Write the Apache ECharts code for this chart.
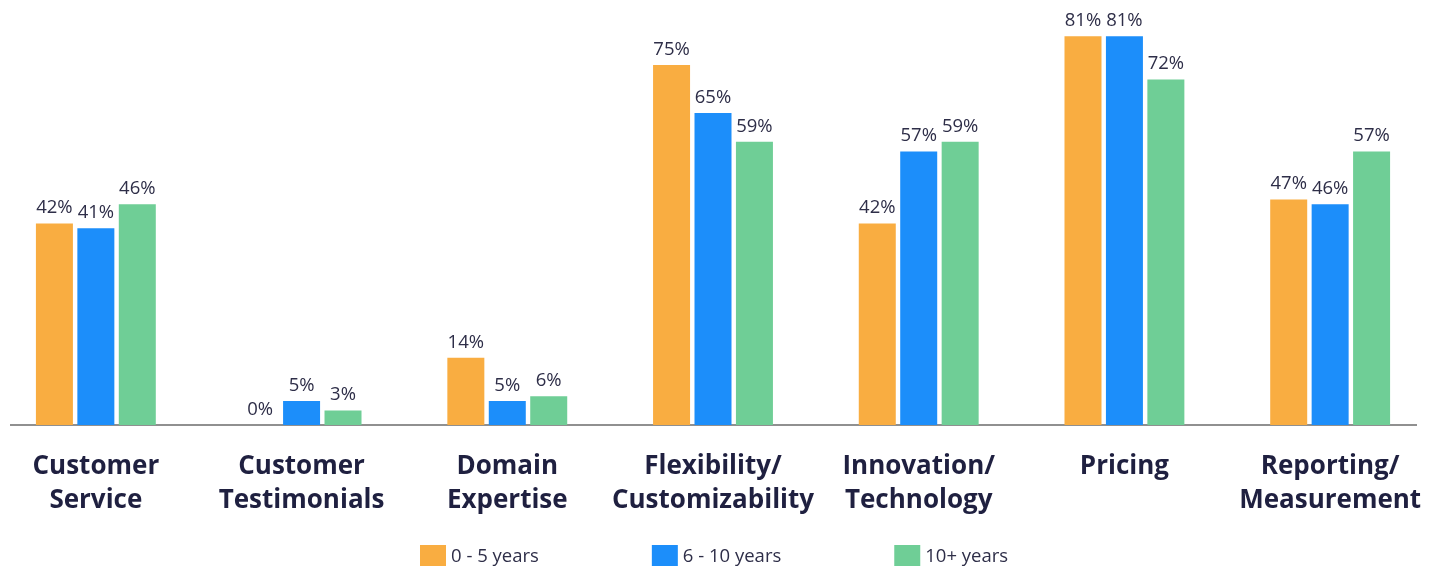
<!DOCTYPE html>
<html>
<head>
<meta charset="utf-8">
<script src="https://cdn.jsdelivr.net/npm/echarts@6/dist/echarts.min.js"></script>
<style>
  html, body { margin: 0; padding: 0; background: #fff; }
  #chart { width: 1434px; height: 566px; }
</style>
</head>
<body>
<div id="chart"></div>
<script>
var categories = ['Customer\nService', 'Customer\nTestimonials', 'Domain\nExpertise',
  'Flexibility/\nCustomizability', 'Innovation/\nTechnology', 'Pricing', 'Reporting/\nMeasurement'];
var years0to5 = [42, 0, 14, 75, 42, 81, 47];
var years6to10 = [41, 5, 5, 65, 57, 81, 46];
var years10plus = [46, 3, 6, 59, 59, 72, 57];
var seriesNames = ['0 - 5 years', '6 - 10 years', '10+ years'];
var colors = ['#F9AD41', '#1C8EFA', '#6FCE96'];

var chart = echarts.init(document.getElementById('chart'));

function barSeries(name, data, color) {
  return {
    name: name,
    type: 'bar',
    data: data,
    barWidth: 37,
    barGap: '12%',
    itemStyle: { color: color },
    label: {
      show: true,
      position: 'top',
      distance: 6,
      formatter: '{c}%',
      color: '#2e2e48',
      fontFamily: 'Open Sans',
      fontSize: 18.5
    }
  };
}

var option = {
  textStyle: { fontFamily: 'Open Sans' },
  color: colors,
  grid: { left: -7, width: 1440, top: 17, bottom: 141, outerBoundsMode: 'none' },
  legend: {
    left: 420,
    top: 545,
    padding: 0,
    itemWidth: 26,
    itemHeight: 24,
    itemGap: 113,
    icon: 'rect',
    textStyle: { color: '#2e2e48', fontSize: 18.5, fontFamily: 'Open Sans' },
    data: seriesNames
  },
  xAxis: {
    type: 'category',
    data: categories,
    axisLine: { show: false },
    axisTick: { show: false },
    axisLabel: {
      interval: 0,
      margin: 25,
      verticalAlign: 'top',
      color: '#1f2040',
      fontFamily: 'Open Sans',
      fontWeight: 'bold',
      fontSize: 26,
      lineHeight: 34
    }
  },
  yAxis: {
    type: 'value',
    min: 0,
    max: 85,
    show: false,
    splitLine: { show: false }
  },
  graphic: [{
    type: 'line',
    shape: { x1: 10, y1: 425, x2: 1417, y2: 425 },
    style: { stroke: '#6b6b6b', lineWidth: 1.5 }
  }],
  series: [
    barSeries(seriesNames[0], years0to5, colors[0]),
    barSeries(seriesNames[1], years6to10, colors[1]),
    barSeries(seriesNames[2], years10plus, colors[2])
  ]
};

chart.setOption(option);
</script>
</body>
</html>
